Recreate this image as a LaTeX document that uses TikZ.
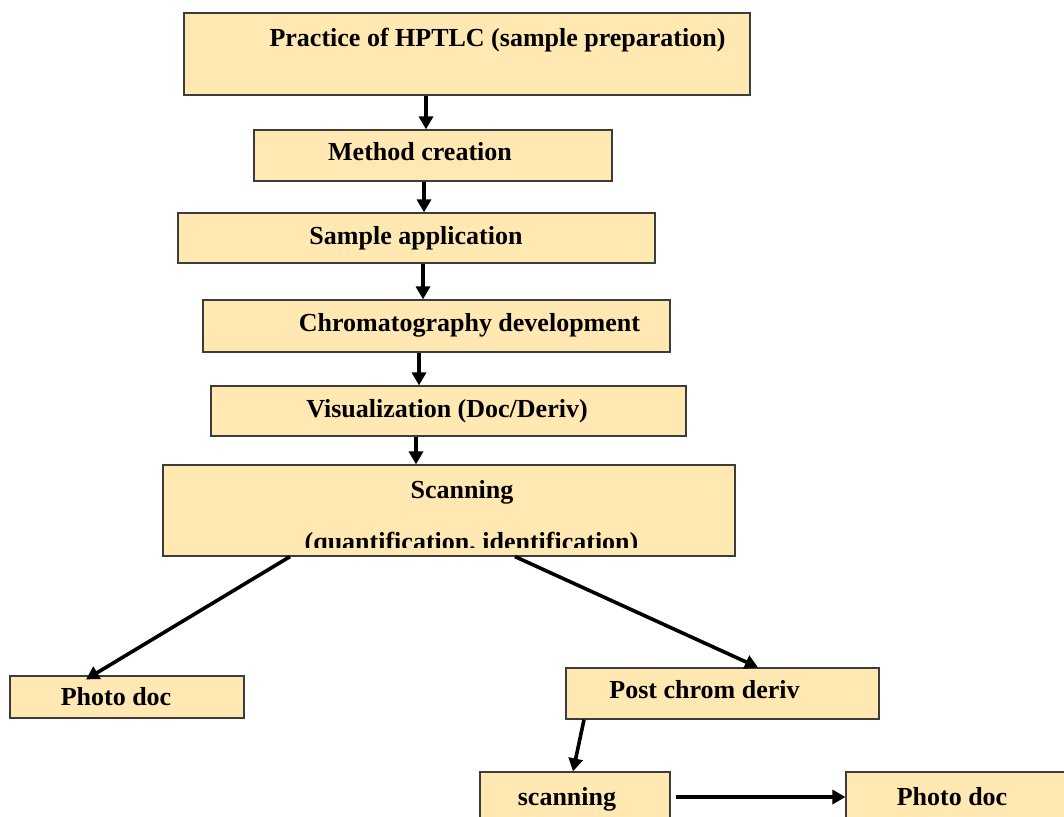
\documentclass[tikz,border=0pt]{standalone}
\usepackage{fontspec}
\setmainfont{Liberation Serif}
\usetikzlibrary{arrows.meta}
\definecolor{boxfill}{RGB}{255,232,178}
\definecolor{boxline}{RGB}{60,60,60}
\tikzset{
  box/.style={draw=boxline, fill=boxfill, line width=1.2pt, inner sep=0pt, rectangle},
  lbl/.style={anchor=base, inner sep=0pt, font=\fontsize{26}{30}\selectfont\bfseries},
  arr/.style={line width=3.6pt, -{Triangle[length=13pt,width=14pt]}}
}
\begin{document}
\begin{tikzpicture}[x=1pt,y=-1pt]
\useasboundingbox (0,0) rectangle (1064,816);
\clip (0,0) rectangle (1064,816);
\fill[white] (0,0) rectangle (1064,816);
% boxes
\node[box, minimum width=566, minimum height=82] (b1) at (467,54) {};
\node[box, minimum width=358, minimum height=51] (b2) at (433,155.5) {};
\node[box, minimum width=477, minimum height=50] (b3) at (416.5,238) {};
\node[box, minimum width=467, minimum height=52] (b4) at (436.5,326) {};
\node[box, minimum width=475, minimum height=50] (b5) at (448.5,411) {};
\node[box, minimum width=572, minimum height=91] (b6) at (449,510.5) {};
\node[box, minimum width=234, minimum height=42] (b7) at (127,697) {};
\node[box, minimum width=313, minimum height=51] (b8) at (722.5,693.5) {};
\node[box, minimum width=190, minimum height=68] (b9) at (575,806) {};
\node[box, minimum width=254, minimum height=68] (b10) at (973,806) {};
% labels
\node[lbl] (t1) at (497.5,46.5) {Practice of HPTLC (sample preparation)};
\node[lbl] (t2) at (420,160.5) {Method creation};
\node[lbl] (t3) at (416,244.5) {Sample application};
\node[lbl] (t4) at (469.5,331.5) {Chromatography development};
\node[lbl] (t5) at (447,417.5) {Visualization (Doc/Deriv)};
\node[lbl] (t6a) at (462,498.5) {Scanning};
\begin{scope}
\clip (b6.north west) rectangle ([yshift=9.5pt]b6.south east);
\node[lbl] (t6b) at (471.5,550) {(quantification, identification)};
\end{scope}
\node[lbl] (t7) at (116,705.5) {Photo doc};
\node[lbl] (t8) at (704.5,698.5) {Post chrom deriv};
\node[lbl] (t9) at (567,805.5) {scanning};
\node[lbl] (t10) at (952,805.5) {Photo doc};
% connectors
\draw[arr] (b1.south -| 426,0) -- (b2.north -| 426,0);
\draw[arr] (b2.south -| 424,0) -- (b3.north -| 424,0);
\draw[arr] (b3.south -| 423,0) -- (b4.north -| 423,0);
\draw[arr] (b4.south -| 419,0) -- (b5.north -| 419,0);
\draw[arr] (b5.south -| 416,0) -- (b6.north -| 416,0);
\draw[arr] (b6.south -| 290,0) -- ([yshift=-4pt]b7.north -| 86,0);
\draw[arr] (b6.south -| 515,0) -- (b8.north -| 758,0);
\draw[arr] (b8.south -| 584,0) -- (b9.north -| 573,0);
\draw[arr] ([xshift=5pt]b9.east |- 0,797) -- (b10.west |- 0,797);
\end{tikzpicture}
\end{document}
